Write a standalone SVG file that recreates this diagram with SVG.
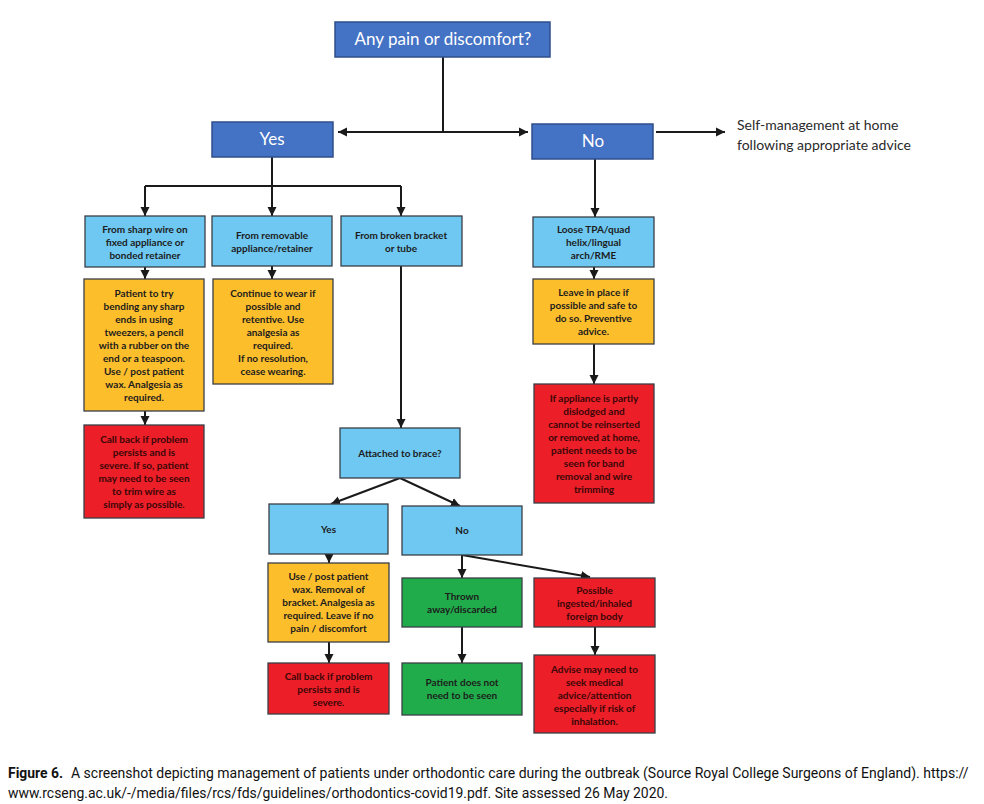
<svg xmlns="http://www.w3.org/2000/svg" width="984" height="804" viewBox="0 0 984 804">
<style>
.hdr{fill:#4472C4;stroke:#2F4F8A;stroke-width:1.5}
.lb{fill:#6EC8F2;stroke:#3a3f45;stroke-width:1.3}
.or{fill:#FDBE2C;stroke:#3a3f45;stroke-width:1.3}
.rd{fill:#EC1E27;stroke:#3a3f45;stroke-width:1.3}
.gr{fill:#21AC4B;stroke:#3a3f45;stroke-width:1.3}
.ht{font-family:Lato,"Open Sans",sans-serif;font-size:17px;fill:#ffffff;text-anchor:middle}
.bt{font-family:Lato,"Open Sans",sans-serif;font-size:10px;font-weight:bold;fill:#1c1c1c;text-anchor:middle}
.rt{font-family:Lato,"Open Sans",sans-serif;font-size:10px;font-weight:bold;fill:#3a0707;text-anchor:middle}
.st{font-family:Lato,"Open Sans",sans-serif;font-size:14px;fill:#2a2a2a}
.cap{font-family:Roboto,"Liberation Sans",sans-serif;font-size:15px;fill:#111111}
.cn line,.cn polyline{stroke:#1a1a1a;stroke-width:2;fill:none}
</style>
<defs>
<marker id="ah" markerUnits="userSpaceOnUse" markerWidth="10" markerHeight="10" refX="9" refY="5" orient="auto">
<path d="M0,0.5 L9,5 L0,9.5 Z" fill="#1a1a1a"/>
</marker>
<marker id="as" markerUnits="userSpaceOnUse" markerWidth="10" markerHeight="10" refX="1" refY="5" orient="auto">
<path d="M10,0.5 L1,5 L10,9.5 Z" fill="#1a1a1a"/>
</marker>
</defs>
<rect width="984" height="804" fill="#ffffff"/>

<g class="cn" id="connectors">
<line x1="443" y1="57" x2="443" y2="132"/>
<line x1="338" y1="132" x2="528" y2="132" marker-start="url(#as)" marker-end="url(#ah)"/>
<line x1="656" y1="132" x2="725" y2="132" marker-end="url(#ah)"/>
<line x1="595" y1="159" x2="595" y2="217" marker-end="url(#ah)"/>
<line x1="272" y1="157" x2="272" y2="186"/>
<line x1="145" y1="186" x2="401" y2="186"/>
<line x1="145" y1="186" x2="145" y2="216" marker-end="url(#ah)"/>
<line x1="272" y1="186" x2="272" y2="216" marker-end="url(#ah)"/>
<line x1="401" y1="186" x2="401" y2="216" marker-end="url(#ah)"/>
<line x1="145" y1="267" x2="145" y2="279" marker-end="url(#ah)"/>
<line x1="272" y1="266" x2="272" y2="279" marker-end="url(#ah)"/>
<line x1="145" y1="411" x2="145" y2="425" marker-end="url(#ah)"/>
<line x1="401" y1="266" x2="401" y2="428" marker-end="url(#ah)"/>
<line x1="400" y1="478" x2="331" y2="504" marker-end="url(#ah)"/>
<line x1="400" y1="478" x2="460" y2="506" marker-end="url(#ah)"/>
<line x1="329" y1="554" x2="329" y2="563" marker-end="url(#ah)"/>
<line x1="329" y1="642" x2="329" y2="663" marker-end="url(#ah)"/>
<line x1="462" y1="555" x2="462" y2="578" marker-end="url(#ah)"/>
<line x1="462" y1="555" x2="590" y2="577" marker-end="url(#ah)"/>
<line x1="462" y1="627" x2="462" y2="663" marker-end="url(#ah)"/>
<line x1="595" y1="627" x2="595" y2="655" marker-end="url(#ah)"/>
<line x1="594" y1="267" x2="594" y2="279" marker-end="url(#ah)"/>
<line x1="594" y1="344" x2="594" y2="384" marker-end="url(#ah)"/>
</g>

<g id="n-top"><rect class="hdr" x="335" y="22" width="215" height="35"/><text class="ht" x="443" y="45">Any pain or discomfort?</text></g>
<g id="n-yes"><rect class="hdr" x="212" y="122" width="121" height="35"/><text class="ht" x="272" y="145">Yes</text></g>
<g id="n-no"><rect class="hdr" x="532" y="124" width="121" height="35"/><text class="ht" x="593" y="147">No</text></g>
<g id="n-self"><text class="st" x="737" y="130">Self-management at home</text><text class="st" x="737" y="150">following appropriate advice</text></g>

<g id="n-sharp"><rect class="lb" x="85" y="216" width="120" height="51"/>
<text class="bt" x="145" y="232.5">From sharp wire on</text><text class="bt" x="145" y="245.5">fixed appliance or</text><text class="bt" x="145" y="258.5">bonded retainer</text></g>
<g id="n-removable"><rect class="lb" x="212" y="216" width="120" height="50"/>
<text class="bt" x="272" y="238.5">From removable</text><text class="bt" x="272" y="251.5">appliance/retainer</text></g>
<g id="n-broken"><rect class="lb" x="341" y="216" width="121" height="50"/>
<text class="bt" x="401" y="238.5">From broken bracket</text><text class="bt" x="401" y="251.5">or tube</text></g>
<g id="n-loose"><rect class="lb" x="533" y="217" width="121" height="50"/>
<text class="bt" x="593.5" y="232.5">Loose TPA/quad</text><text class="bt" x="593.5" y="245.5">helix/lingual</text><text class="bt" x="593.5" y="258.5">arch/RME</text></g>

<g id="n-bend"><rect class="or" x="84" y="279" width="120" height="132"/>
<text class="bt" x="144" y="296.5">Patient to try</text>
<text class="bt" x="144" y="309.5">bending any sharp</text>
<text class="bt" x="144" y="322.5">ends in using</text>
<text class="bt" x="144" y="335.5">tweezers, a pencil</text>
<text class="bt" x="144" y="348.5">with a rubber on the</text>
<text class="bt" x="144" y="361.5">end or a teaspoon.</text>
<text class="bt" x="144" y="374.5">Use / post patient</text>
<text class="bt" x="144" y="387.5">wax.  Analgesia as</text>
<text class="bt" x="144" y="400.5">required.</text></g>
<g id="n-continue"><rect class="or" x="213" y="279" width="120" height="105"/>
<text class="bt" x="273" y="296.5">Continue to wear if</text>
<text class="bt" x="273" y="309.5">possible and</text>
<text class="bt" x="273" y="322.5">retentive. Use</text>
<text class="bt" x="273" y="335.5">analgesia as</text>
<text class="bt" x="273" y="348.5">required.</text>
<text class="bt" x="273" y="361.5">If no resolution,</text>
<text class="bt" x="273" y="374.5">cease wearing.</text></g>
<g id="n-leave"><rect class="or" x="533" y="279" width="121" height="65"/>
<text class="bt" x="593.5" y="295.5">Leave in place if</text>
<text class="bt" x="593.5" y="308.5">possible and safe to</text>
<text class="bt" x="593.5" y="321.5">do so. Preventive</text>
<text class="bt" x="593.5" y="334.5">advice.</text></g>

<g id="n-callback1"><rect class="rd" x="84" y="425" width="120" height="93"/>
<text class="rt" x="144" y="442.5">Call back if problem</text>
<text class="rt" x="144" y="455.5">persists and is</text>
<text class="rt" x="144" y="468.5">severe. If so, patient</text>
<text class="rt" x="144" y="481.5">may need to be seen</text>
<text class="rt" x="144" y="494.5">to trim wire as</text>
<text class="rt" x="144" y="507.5">simply as possible.</text></g>
<g id="n-dislodged"><rect class="rd" x="534" y="384" width="120" height="119"/>
<text class="rt" x="594" y="401.5">If appliance is partly</text>
<text class="rt" x="594" y="414.5">dislodged and</text>
<text class="rt" x="594" y="427.5">cannot be reinserted</text>
<text class="rt" x="594" y="440.5">or removed at home,</text>
<text class="rt" x="594" y="453.5">patient needs to be</text>
<text class="rt" x="594" y="466.5">seen for band</text>
<text class="rt" x="594" y="479.5">removal and wire</text>
<text class="rt" x="594" y="492.5">trimming</text></g>

<g id="n-attached"><rect class="lb" x="340" y="428" width="120" height="50"/>
<text class="bt" x="400" y="456.5">Attached to brace?</text></g>
<g id="n-yes2"><rect class="lb" x="269" y="504" width="119" height="50"/>
<text class="bt" x="328.5" y="532.5">Yes</text></g>
<g id="n-no2"><rect class="lb" x="402" y="506" width="120" height="49"/>
<text class="bt" x="462" y="534">No</text></g>
<g id="n-wax"><rect class="or" x="268" y="563" width="121" height="79"/>
<text class="bt" x="328.5" y="580">Use / post patient</text>
<text class="bt" x="328.5" y="593">wax. Removal of</text>
<text class="bt" x="328.5" y="606">bracket. Analgesia as</text>
<text class="bt" x="328.5" y="619">required. Leave if no</text>
<text class="bt" x="328.5" y="632">pain / discomfort</text></g>
<g id="n-callback2"><rect class="rd" x="268" y="663" width="121" height="51"/>
<text class="rt" x="328.5" y="679.5">Call back if problem</text>
<text class="rt" x="328.5" y="692.5">persists and is</text>
<text class="rt" x="328.5" y="705.5">severe.</text></g>
<g id="n-thrown"><rect class="gr" x="402" y="578" width="120" height="49"/>
<text class="bt" x="462" y="600">Thrown</text>
<text class="bt" x="462" y="613">away/discarded</text></g>
<g id="n-notseen"><rect class="gr" x="402" y="663" width="120" height="52"/>
<text class="bt" x="462" y="686">Patient does not</text>
<text class="bt" x="462" y="699">need to be seen</text></g>
<g id="n-ingested"><rect class="rd" x="534" y="578" width="121" height="49"/>
<text class="rt" x="594.5" y="593.5">Possible</text>
<text class="rt" x="594.5" y="606.5">ingested/inhaled</text>
<text class="rt" x="594.5" y="619.5">foreign body</text></g>
<g id="n-advise"><rect class="rd" x="534" y="655" width="121" height="78"/>
<text class="rt" x="594.5" y="672.5">Advise may need to</text>
<text class="rt" x="594.5" y="685.5">seek medical</text>
<text class="rt" x="594.5" y="698.5">advice/attention</text>
<text class="rt" x="594.5" y="711.5">especially if risk of</text>
<text class="rt" x="594.5" y="724.5">inhalation.</text></g>

<g id="caption" transform="scale(0.88,1)">
<text class="cap" x="9.1" y="778" font-weight="bold" textLength="62.5" lengthAdjust="spacingAndGlyphs">Figure 6.</text>
<text class="cap" x="80.7" y="778" textLength="1020" lengthAdjust="spacingAndGlyphs">A screenshot depicting management of patients under orthodontic care during the outbreak (Source Royal College Surgeons of England). https://</text>
<text class="cap" x="9.1" y="798" textLength="750" lengthAdjust="spacingAndGlyphs">www.rcseng.ac.uk/-/media/files/rcs/fds/guidelines/orthodontics-covid19.pdf. Site assessed 26 May 2020.</text>
</g>
</svg>
